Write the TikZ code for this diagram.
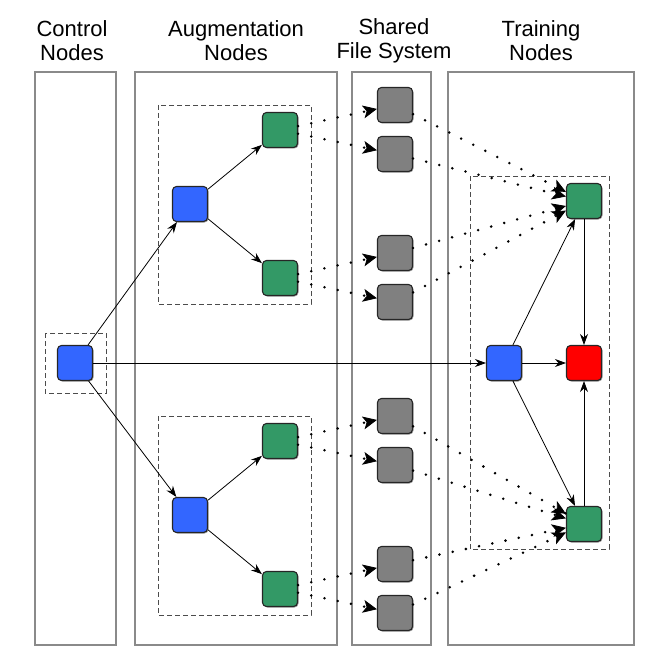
\documentclass[tikz,border=0pt]{standalone}
\usepackage{fontspec}
\setmainfont{Liberation Sans}
\usetikzlibrary{arrows.meta,shadows,decorations.markings}
\definecolor{sininen}{HTML}{3366FF}
\definecolor{vihrea}{HTML}{339966}
\definecolor{harmaa}{HTML}{808080}
\definecolor{punainen}{HTML}{FF0000}
\definecolor{reuna}{HTML}{8A8A8A}
\begin{document}
\begin{tikzpicture}[x=1pt,y=-1pt,
solmu/.style={draw=black!85,line width=1.1pt,rounded corners=4pt,minimum size=35pt,inner sep=0pt,
  drop shadow={shadow xshift=1pt,shadow yshift=-1pt,fill=black!55,opacity=0.7}},
laatikko/.style={draw=black!70,dash pattern=on 5pt off 3pt,line width=0.8pt},
paneeli/.style={draw=reuna,line width=1.6pt},
nuoli/.style={draw,line width=0.8pt,-{Stealth[length=11pt,width=8pt]}},
pisteet/.style={draw,line width=2.8pt,line cap=round,dash pattern=on 0pt off 13.5pt,
  postaction={decorate,decoration={markings,mark=at position 1 with
  {\pgfsetdash{}{0pt}\arrow[line width=0.8pt]{Stealth[length=14pt,width=13pt,inset=3.5pt]}}}}}]
\fontsize{22pt}{24pt}\selectfont
\useasboundingbox (0,0) rectangle (665,661);
\newcommand\ryhma[2]{
\path[laatikko] (158,105) rectangle (311,304);
\node[solmu,fill=sininen] (#1-0) at (190,204) {};
\node[solmu,fill=vihrea] (#1-1) at (280,130) {};
\node[solmu,fill=vihrea] (#1-2) at (280,278) {};
\node[solmu,fill=harmaa] (#1-3) at (395,105) {};
\node[solmu,fill=harmaa] (#1-4) at (395,154) {};
\node[solmu,fill=harmaa] (#1-5) at (395,253) {};
\node[solmu,fill=harmaa] (#1-6) at (395,302) {};
\path[nuoli] (#1-0) -- (#1-1);
\path[nuoli] (#1-0) -- (#1-2);
\path[pisteet] (#1-1) -- (#1-3);
\path[pisteet] (#1-1) -- (#1-4);
\path[pisteet] (#1-2) -- (#1-5);
\path[pisteet] (#1-2) -- (#1-6);
\path[pisteet] (#1-3) -- (#2);
\path[pisteet] (#1-4) -- (#2);
\path[pisteet] (#1-5) -- (#2);
\path[pisteet] (#1-6) -- (#2);
}
% otsikot
\node[align=center] (o1) at (72,41) {Control\\Nodes};
\node[align=center] (o2) at (236,41) {Augmentation\\Nodes};
\node[align=center] (o3) at (394,41) {Shared\\File System};
\node[align=center] (o4) at (541,41) {Training\\Nodes};
% paneelit
\path[paneeli] (35,72) rectangle (116,645);
\path[paneeli] (135,72) rectangle (337,645);
\path[paneeli] (352,72) rectangle (431,645);
\path[paneeli] (448,72) rectangle (634,645);
% ohjaus
\path[laatikko] (45,333) rectangle (106,393);
\node[solmu,fill=sininen] (k) at (75,363) {};
% opetus
\path[laatikko] (470,176) rectangle (609,549);
\node[solmu,fill=sininen] (t0) at (504,363) {};
\node[solmu,fill=vihrea] (t1) at (584,201) {};
\node[solmu,fill=punainen] (t2) at (584,363) {};
\node[solmu,fill=vihrea] (t3) at (584,524) {};
\path[nuoli] (t0) -- (t1);
\path[nuoli] (t0) -- (t3);
\path[nuoli] (t0) -- (t2);
\path[nuoli] (t1) -- (t2);
\path[nuoli] (t3) -- (t2);
\begin{scope}
\ryhma{y}{t1}
\end{scope}
\begin{scope}[shift={(0,311)}]
\ryhma{a}{t3}
\end{scope}
\path[nuoli] (k) -- (y-0);
\path[nuoli] (k) -- (a-0);
\path[nuoli] (k) -- (t0);
\end{tikzpicture}
\end{document}
